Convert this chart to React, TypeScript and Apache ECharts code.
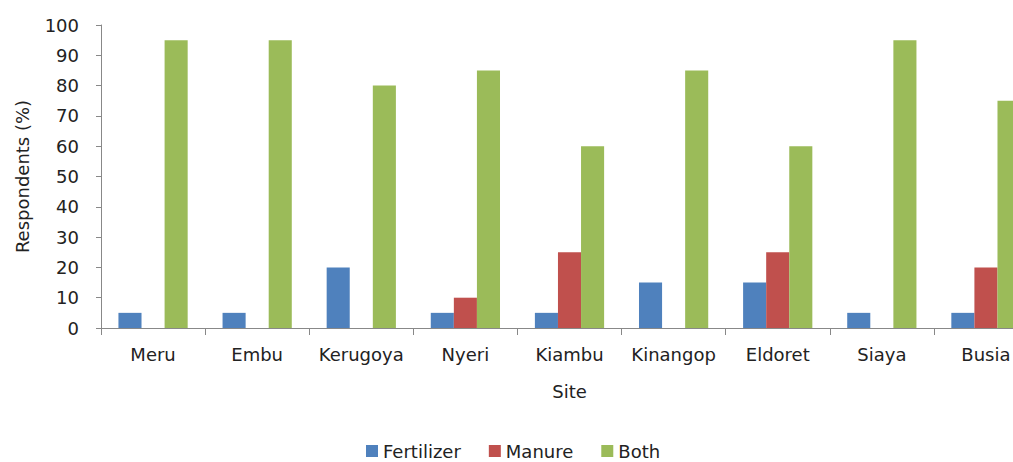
import React, { useEffect, useRef } from "react";
import * as echarts from "echarts";

const sites = ["Meru", "Embu", "Kerugoya", "Nyeri", "Kiambu", "Kinangop", "Eldoret", "Siaya", "Busia"];
const fertilizer = [5, 5, 20, 5, 5, 15, 15, 5, 5];
const manure: (number | null)[] = [null, null, null, 10, 25, null, 25, null, 20];
const both = [95, 95, 80, 85, 60, 85, 60, 95, 75];
const yTicks = { min: 0, max: 100, interval: 10 };

const FONT = "'DejaVu Sans', 'Open Sans', sans-serif";
const TEXT = "#222";
const AXIS = "#888";

export default function App() {
  const ref = useRef<HTMLDivElement>(null);
  useEffect(() => {
    if (!ref.current) return;
    const chart = echarts.init(ref.current, undefined, { renderer: "svg" });
    chart.setOption({
      animation: false,
      backgroundColor: "#fff",
      textStyle: { fontFamily: FONT },
      grid: { left: 101, top: 25, bottom: 134, right: 2, containLabel: false },
      legend: {
        top: 437,
        left: 361,
        itemWidth: 12,
        itemHeight: 12,
        itemGap: 28,
        icon: "rect",
        textStyle: { fontFamily: FONT, fontSize: 18, color: TEXT },
        data: ["Fertilizer", "Manure", "Both"],
      },
      xAxis: {
        type: "category",
        data: sites,
        name: "Site",
        nameLocation: "middle",
        nameGap: 54,
        nameTextStyle: { fontFamily: FONT, fontSize: 18, color: TEXT },
        axisLine: { lineStyle: { color: AXIS } },
        axisTick: { show: true, length: 7, lineStyle: { color: AXIS } },
        axisLabel: { interval: 0, fontFamily: FONT, fontSize: 18, color: TEXT, margin: 17 },
      },
      yAxis: {
        type: "value",
        min: yTicks.min,
        max: yTicks.max,
        interval: yTicks.interval,
        name: "Respondents (%)",
        nameLocation: "middle",
        nameGap: 70,
        nameTextStyle: { fontFamily: FONT, fontSize: 18, color: TEXT },
        axisLine: { show: true, lineStyle: { color: AXIS } },
        axisTick: { show: true, length: 5, lineStyle: { color: AXIS } },
        splitLine: { show: false },
        axisLabel: { fontFamily: FONT, fontSize: 18, color: TEXT, margin: 22 },
      },
      series: [
        { name: "Fertilizer", type: "bar", data: fertilizer, itemStyle: { color: "#4F81BD" }, barGap: "0%", barCategoryGap: "33.5%" },
        { name: "Manure", type: "bar", data: manure, itemStyle: { color: "#C0504D" }, barGap: "0%", barCategoryGap: "33.5%" },
        { name: "Both", type: "bar", data: both, itemStyle: { color: "#9BBB59" }, barGap: "0%", barCategoryGap: "33.5%" },
      ],
    });
    return () => chart.dispose();
  }, []);
  return (
    <div style={{ position: "fixed", left: 0, top: 0, width: 1013, height: 462, overflow: "hidden", background: "#fff" }}>
      <div ref={ref} style={{ width: 1040, height: 462 }} />
    </div>
  );
}
